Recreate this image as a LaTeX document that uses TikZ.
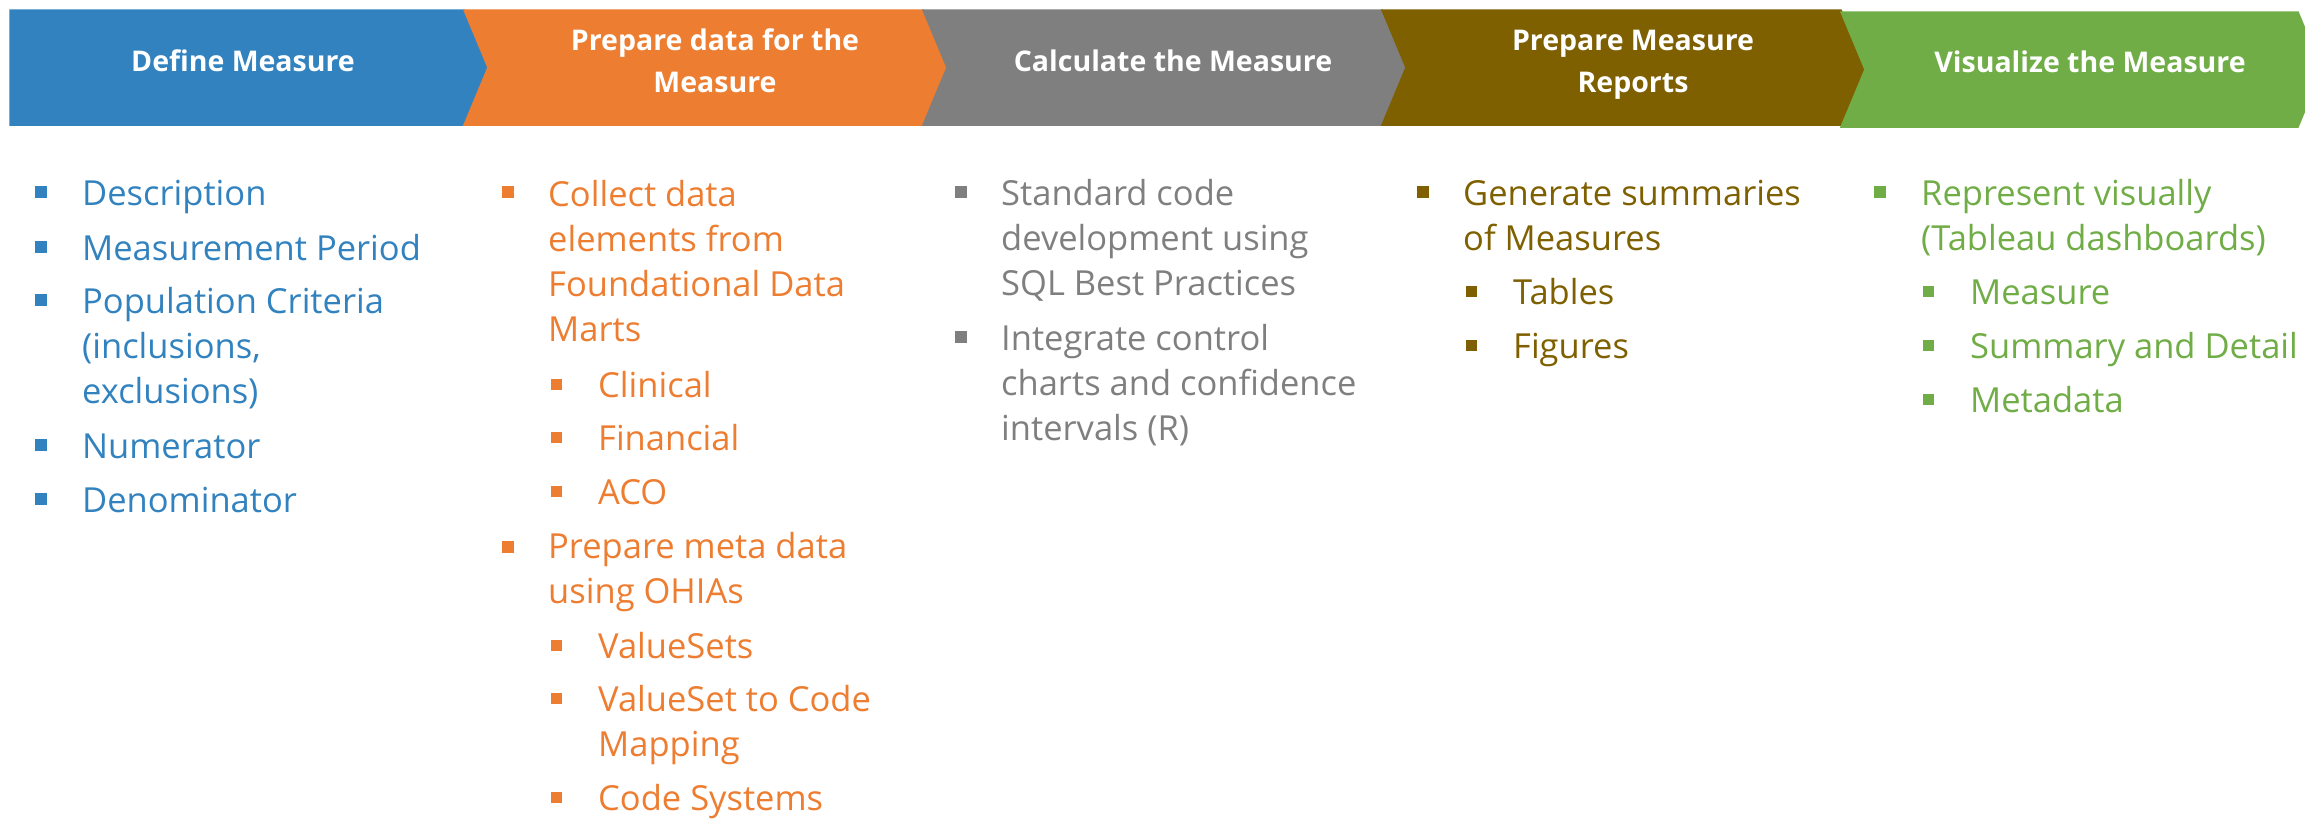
\documentclass[tikz,border=0pt]{standalone}
\usepackage{fontspec}
\setmainfont{Open Sans}
\definecolor{measureblue}{HTML}{3182BE}
\definecolor{dataorange}{HTML}{ED7D31}
\definecolor{calcgray}{HTML}{7F7F7F}
\definecolor{reportbrown}{HTML}{7F6000}
\definecolor{visualgreen}{HTML}{70AD47}
\tikzset{
    stage/.style = {
        draw = white,
        line width = 1.5pt,
        },
    stage title/.style = {
        text = white,
        font = \bfseries\fontsize{28.5}{42}\selectfont,
        align = center,
        anchor = base,
        inner sep = 0pt,
        },
    item/.style = {
        font = \fontsize{34.5}{45}\selectfont,
        align = left,
        anchor = base west,
        inner sep = 0pt,
        },
    bullet/.style = {
        minimum size = 12pt,
        inner sep = 0pt,
        },
    sub bullet/.style = {
        minimum size = 11pt,
        inner sep = 0pt,
        },
}

\begin{document}
\begin{tikzpicture}[x=1pt, y=-1pt]
            \useasboundingbox (0,0) rectangle (2305,819);

            % process chevrons
            \fill[stage, measureblue] (10,10) -- (464,10) -- (488,67.5) -- (464,125) -- (10,125) -- cycle;
            \foreach \l/\r/\c in {464/923/dataorange, 923/1382/calcgray, 1382/1841/reportbrown}
                \fill[stage, \c] (\l,10) -- (\r,10) -- ({\r+24},67.5) -- (\r,125) -- (\l,125) -- ({\l+24},67.5) -- cycle;
            \fill[stage, visualgreen] (1841,12) -- (2298,12) -- (2322,69.5) -- (2298,127) -- (1841,127) -- (1865,69.5) -- cycle;

            % titles sit on the baseline of their last line
            \node[stage title] (define) at (243,71) {Define Measure};
            \node[stage title] (prepare) at (715,92) {Prepare data for the\\Measure};
            \node[stage title] (calculate) at (1173,71) {Calculate the Measure};
            \node[stage title] (reports) at (1633,92) {Prepare Measure\\Reports};
            \node[stage title] (visualize) at (2090,72) {Visualize the Measure};

            % define measure
            \foreach \y in {192,247,300,445,499}
                \node[bullet, fill=measureblue] at (41,\y) {};
            \node[item, measureblue] (desc) at (82,205) {Description};
            \node[item, measureblue] (period) at (82,260) {Measurement Period};
            \node[item, measureblue] (population) at (82,403) {Population Criteria\\(inclusions,\\exclusions)};
            \node[item, measureblue] (numerator) at (82,458) {Numerator};
            \node[item, measureblue] (denominator) at (82,512) {Denominator};

            % prepare data
            \foreach \y in {192,547}
                \node[bullet, fill=dataorange] at (507.5,\y) {};
            \foreach \y in {384,437,491,645,698,797}
                \node[sub bullet, fill=dataorange] at (556.5,\y) {};
            \node[item, dataorange] (collect) at (548,341) {Collect data\\elements from\\Foundational Data\\Marts};
            \node[item, dataorange] (clinical) at (598,397) {Clinical};
            \node[item, dataorange] (financial) at (598,450) {Financial};
            \node[item, dataorange] (aco) at (598,504) {ACO};
            \node[item, dataorange] (meta) at (548,603) {Prepare meta data\\using OHIAs};
            \node[item, dataorange] (valuesets) at (598,658) {ValueSets};
            \node[item, dataorange] (mapping) at (598,756) {ValueSet to Code\\Mapping};
            \node[item, dataorange] (systems) at (598,810) {Code Systems};

            % calculate
            \foreach \y in {192,337}
                \node[bullet, fill=calcgray] at (960.5,\y) {};
            \node[item, calcgray] (sql) at (1001,295) {Standard code\\development using\\SQL Best Practices};
            \node[item, calcgray] (charts) at (1001,440) {Integrate control\\charts and confidence\\intervals (R)};

            % reports
            \node[bullet, fill=reportbrown] at (1422.5,192) {};
            \foreach \y in {291,345}
                \node[sub bullet, fill=reportbrown] at (1471.5,\y) {};
            \node[item, reportbrown] (summaries) at (1463,250) {Generate summaries\\of Measures};
            \node[item, reportbrown] (tables) at (1513,304) {Tables};
            \node[item, reportbrown] (figures) at (1513,358) {Figures};

            % visualize
            \node[bullet, fill=visualgreen] at (1879.5,192) {};
            \foreach \y in {291,345,399}
                \node[sub bullet, fill=visualgreen] at (1928.5,\y) {};
            \node[item, visualgreen] (tableau) at (1921,250) {Represent visually\\(Tableau dashboards)};
            \node[item, visualgreen] (measure) at (1970,304) {Measure};
            \node[item, visualgreen] (detail) at (1970,358) {Summary and Detail};
            \node[item, visualgreen] (metadata) at (1970,412) {Metadata};
        \end{tikzpicture}
\end{document}
